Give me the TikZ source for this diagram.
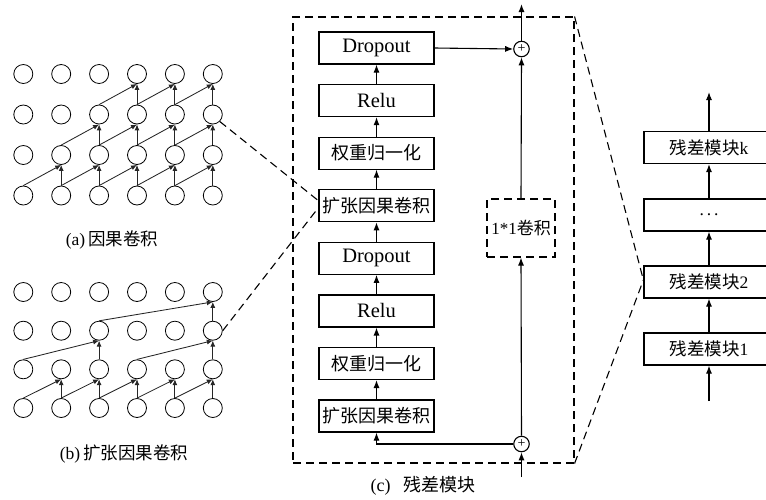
\documentclass[tikz,border=0pt]{standalone}
\usepackage{fontspec}
\setmainfont{Liberation Serif}
\newfontfamily\cjk{Noto Sans CJK SC}
\usetikzlibrary{arrows.meta}
\begin{document}
\begin{tikzpicture}[x=1pt,y=-1pt,
  cir/.style={circle,draw,line width=0.8pt,minimum size=19pt,inner sep=0pt},
  garr/.style={draw=black!85,line width=0.85pt,-{Latex[length=6pt,width=5pt]}},
  blk/.style={draw,line width=1.2pt,minimum width=115pt,minimum height=32pt,inner sep=0pt},
  rblk/.style={draw,line width=1.2pt,minimum width=130pt,minimum height=32pt,inner sep=0pt,font=\fontsize{17.5}{20}\selectfont},
  arr/.style={line width=1.1pt,-{Latex[length=8pt,width=6pt]}},
  dsh/.style={line width=1.1pt,dash pattern=on 8pt off 5pt},
  latn/.style={font=\fontsize{20.5}{24}\selectfont},
  cjkt/.style={font=\fontsize{18}{22}\selectfont\cjk},
  plus/.style={circle,draw,line width=1.1pt,minimum size=15.5pt,inner sep=0pt,font=\fontsize{14}{14}\selectfont},
  captxt/.style={font=\fontsize{17.5}{22}\selectfont},
  ]
\useasboundingbox (0,0) rectangle (766,499);
\clip (0,0) rectangle (766,499);

% ---------- (a) causal convolution ----------
\foreach \r/\y in {1/74,2/114.5,3/155,4/195.5}
  \foreach \c in {0,...,5}
    \node[cir] (a\r\c) at ({23.3+37.9*\c},\y) {};
\foreach \c in {1,...,5}{
  \pgfmathtruncatemacro\p{\c-1}
  \draw[garr] (a4\p.north) -- (a3\c.south);
  \draw[garr] (a4\c.north) -- (a3\c.south);
}
\foreach \c in {2,...,5}{
  \pgfmathtruncatemacro\p{\c-1}
  \draw[garr] (a3\p.north) -- (a2\c.south);
  \draw[garr] (a3\c.north) -- (a2\c.south);
}
\foreach \c in {3,...,5}{
  \pgfmathtruncatemacro\p{\c-1}
  \draw[garr] (a2\p.north) -- (a1\c.south);
  \draw[garr] (a2\c.north) -- (a1\c.south);
}
\node[captxt] (capa) at (112,240) {(a)\,{\cjk 因果卷积}};

% ---------- (b) dilated causal convolution ----------
\foreach \r/\y in {1/292,2/330.7,3/369.3,4/408}
  \foreach \c in {0,...,5}
    \node[cir] (b\r\c) at ({23.3+37.9*\c},\y) {};
\foreach \c in {1,...,5}{
  \pgfmathtruncatemacro\p{\c-1}
  \draw[garr] (b4\p.north) -- (b3\c.south);
  \draw[garr] (b4\c.north) -- (b3\c.south);
}
\draw[garr] (b30.north) -- (b22.south);
\draw[garr] (b32.north) -- (b22.south);
\draw[garr] (b33.north) -- (b25.south);
\draw[garr] (b35.north) -- (b25.south);
\draw[garr] (b22.north) -- (b15.south);
\draw[garr] (b25.north) -- (b15.south);
\node[captxt] (capb) at (124,454) {(b)\,{\cjk 扩张因果卷积}};

% ---------- (c) residual block ----------
\node[dsh,draw,minimum width=281pt,minimum height=446pt,inner sep=0pt] (frame) at (433.5,240) {};
\node[blk,latn] (d1) at (376.5,48) {Dropout};
\node[blk,latn] (r1) at (376.5,100.6) {Relu};
\node[blk,cjkt] (w1) at (376.5,153.1) {权重归一化};
\node[blk,cjkt] (c1) at (376.5,205.7) {扩张因果卷积};
\node[blk,latn] (d2) at (376.5,258.3) {Dropout};
\node[blk,latn] (r2) at (376.5,310.9) {Relu};
\node[blk,cjkt] (w2) at (376.5,363.4) {权重归一化};
\node[blk,cjkt] (c2) at (376.5,416) {扩张因果卷积};
\node[plus] (p1) at (521.5,49) {+};
\node[plus] (p2) at (521.5,444) {+};
\node[dsh,draw,minimum width=68pt,minimum height=58pt,inner sep=0pt,font=\fontsize{17}{20}\selectfont] (conv1) at (521,228) {1*1{\cjk 卷积}};
\coordinate (topout) at (521.5,4);
\coordinate (inp) at (521.5,477);

\draw[arr] (c2.north) -- (w2.south);
\draw[arr] (w2.north) -- (r2.south);
\draw[arr] (r2.north) -- (d2.south);
\draw[arr] (d2.north) -- (c1.south);
\draw[arr] (c1.north) -- (w1.south);
\draw[arr] (w1.north) -- (r1.south);
\draw[arr] (r1.north) -- (d1.south);
\draw[arr] (d1.east) -- (p1.west);
\draw[arr] (conv1.north) -- (p1.south);
\draw[arr] (p1.north) -- (topout);
\draw[arr] (inp) -- (p2.south);
\draw[arr] (p2.north) -- (conv1.south);
\draw[arr] (p2.west) -| (c2.south);
\node[captxt,font=\fontsize{18}{22}\selectfont] (capc) at (423,486) {(c)\hspace{13pt}{\cjk 残差模块}};

% ---------- stacked residual blocks ----------
\node[rblk] (m1) at (709,349) {{\cjk 残差模块}1};
\node[rblk] (m2) at (709,282) {{\cjk 残差模块}2};
\node[rblk] (md) at (709,215) {.\,.\,.};
\node[rblk] (mk) at (709,147.5) {{\cjk 残差模块}k};
\coordinate (sin) at (709,401);
\coordinate (sout) at (709,92);
\draw[arr] (sin) -- (m1.south);
\draw[arr] (m1.north) -- (m2.south);
\draw[arr] (m2.north) -- (md.south);
\draw[arr] (md.north) -- (mk.south);
\draw[arr] (mk.north) -- (sout);

% ---------- dashed zoom lines ----------
\draw[dsh] (a25.south east) -- ([yshift=5pt]c1.west);
\draw[dsh] (b25.east) -- ([yshift=-2pt]c1.west);
\draw[dsh] (frame.north east) -- ([yshift=2pt]m2.west);
\draw[dsh] (frame.south east) -- ([yshift=2pt]m2.west);
\end{tikzpicture}
\end{document}
